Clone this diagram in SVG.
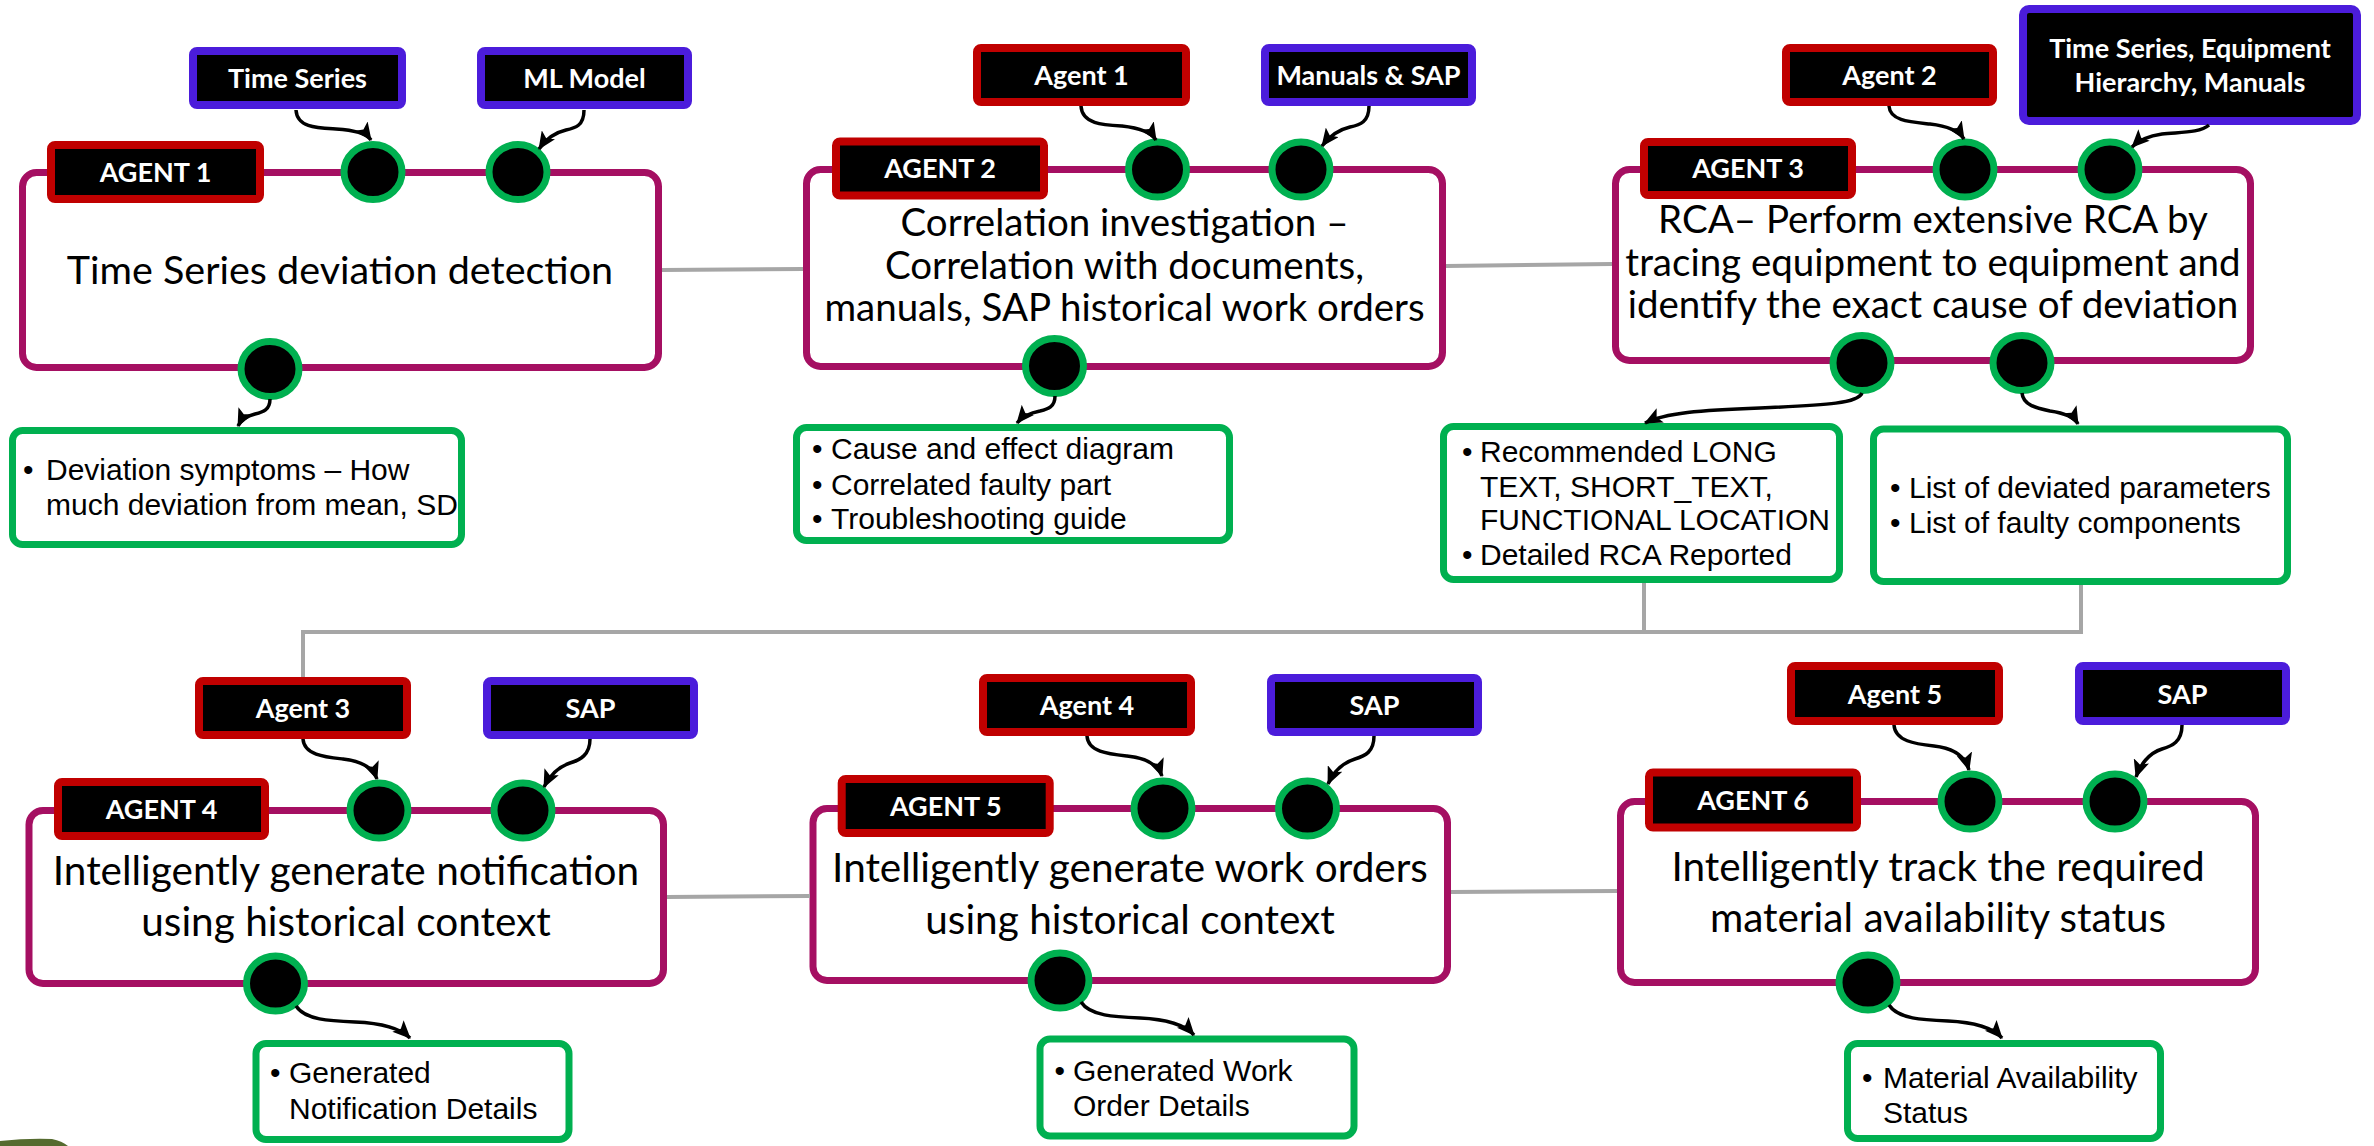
<svg xmlns="http://www.w3.org/2000/svg" width="2374" height="1146" viewBox="0 0 2374 1146">
<defs>
<style>
.main{fill:#fff;stroke:#A50F62;stroke-width:7}
.lr{fill:#000;stroke:#C00000;stroke-width:8}
.lb{fill:#000;stroke:#4B1CDB;stroke-width:8}
.port{fill:#000;stroke:#00B050;stroke-width:7}
.out{fill:#fff;stroke:#00B050;stroke-width:7}
.conn{fill:none;stroke:#A6A6A6;stroke-width:4}
.arr{fill:none;stroke:#000;stroke-width:3.5;marker-end:url(#ah)}
.title{font-family:Lato,"Open Sans",sans-serif;font-size:38.5px;fill:#000;text-anchor:middle}
.title1{font-family:Lato,"Open Sans",sans-serif;font-size:39.5px;fill:#000;text-anchor:middle}
.title2{font-family:Lato,"Open Sans",sans-serif;font-size:40.5px;fill:#000;text-anchor:middle}
.lt{font-family:Lato,"Open Sans",sans-serif;font-weight:bold;font-size:27px;fill:#fff;text-anchor:middle}
.bt{font-family:"Liberation Sans",Arial,sans-serif;font-size:30px;fill:#000}
</style>
<marker id="ah" markerUnits="userSpaceOnUse" markerWidth="18" markerHeight="16" refX="17" refY="8" orient="auto">
<path d="M0,0 L18,8 L0,16 L4,8 Z" fill="#000"/>
</marker>
</defs>
<rect width="2374" height="1146" fill="#fff"/>
<path d="M0,1146 L0,1141 Q28,1138 52,1139 Q62,1141 68,1146 Z" fill="#556B2F"/>

<!-- Row 1 -->
<g id="in-timeseries-1"><rect class="lb" x="193" y="51" width="209" height="54" rx="4"/><text class="lt" x="297.5" y="87.5">Time Series</text></g>
<g id="in-mlmodel"><rect class="lb" x="481" y="51" width="207" height="54" rx="4"/><text class="lt" x="584.5" y="87.5">ML Model</text></g>
<g id="agent1">
<rect class="main" x="22.5" y="172.5" width="636" height="195" rx="14"/>
<rect class="lr" x="51" y="145" width="209" height="54" rx="4"/><text class="lt" x="155.5" y="181.5">AGENT 1</text>
<ellipse class="port" cx="373" cy="172" rx="29" ry="27.5"/>
<ellipse class="port" cx="518" cy="172" rx="29" ry="27.5"/>
<ellipse class="port" cx="270" cy="369" rx="29" ry="27.5"/>
<text class="title1" x="340" y="284">Time Series deviation detection</text>
</g>
<g id="out1"><rect class="out" x="12.5" y="430.5" width="449" height="114" rx="10"/>
<text class="bt" x="23" y="480">•</text><text class="bt" x="46" y="480">Deviation symptoms – How</text><text class="bt" x="46" y="515">much deviation from mean, SD</text></g>

<g id="in-agent1"><rect class="lr" x="977" y="48" width="209" height="54" rx="4"/><text class="lt" x="1081.5" y="84.5">Agent 1</text></g>
<g id="in-manuals"><rect class="lb" x="1265" y="48" width="207" height="54" rx="4"/><text class="lt" x="1368.5" y="84.5">Manuals &amp; SAP</text></g>
<g id="agent2">
<rect class="main" x="806.5" y="169.5" width="636" height="197" rx="14"/>
<rect class="lr" x="836" y="141.5" width="208" height="54" rx="4"/><text class="lt" x="940" y="178">AGENT 2</text>
<ellipse class="port" cx="1157.5" cy="169.5" rx="29" ry="27.5"/>
<ellipse class="port" cx="1301" cy="169.5" rx="29" ry="27.5"/>
<ellipse class="port" cx="1054.5" cy="366" rx="29" ry="27.5"/>
<text class="title" x="1124.5" y="236">Correlation investigation –</text>
<text class="title" x="1124.5" y="279">Correlation with documents,</text>
<text class="title" x="1124.5" y="321">manuals, SAP historical work orders</text>
</g>
<g id="out2"><rect class="out" x="796.5" y="427.5" width="433" height="113" rx="10"/>
<text class="bt" x="812" y="459">•</text><text class="bt" x="831" y="459">Cause and effect diagram</text>
<text class="bt" x="812" y="495">•</text><text class="bt" x="831" y="495">Correlated faulty part</text>
<text class="bt" x="812" y="529">•</text><text class="bt" x="831" y="529">Troubleshooting guide</text></g>

<g id="in-agent2"><rect class="lr" x="1786" y="48" width="207" height="54" rx="4"/><text class="lt" x="1889.5" y="84.5">Agent 2</text></g>
<g id="in-tseqman"><rect class="lb" x="2023" y="9" width="334" height="112" rx="6"/><text class="lt" x="2190" y="57.5">Time Series, Equipment</text><text class="lt" x="2190" y="92">Hierarchy, Manuals</text></g>
<g id="agent3">
<rect class="main" x="1615.5" y="169.5" width="635" height="191" rx="14"/>
<rect class="lr" x="1644" y="142" width="208" height="53" rx="4"/><text class="lt" x="1748" y="178">AGENT 3</text>
<ellipse class="port" cx="1965" cy="169.5" rx="29" ry="27.5"/>
<ellipse class="port" cx="2110" cy="169.5" rx="29" ry="27.5"/>
<ellipse class="port" cx="1862" cy="363" rx="29" ry="27.5"/>
<ellipse class="port" cx="2022" cy="363" rx="29" ry="27.5"/>
<text class="title" x="1933" y="233">RCA– Perform extensive RCA by</text>
<text class="title" x="1933" y="275.5">tracing equipment to equipment and</text>
<text class="title" x="1933" y="318">identify the exact cause of deviation</text>
</g>
<g id="out3a"><rect class="out" x="1443.5" y="426.5" width="396" height="153" rx="10"/>
<text class="bt" x="1462" y="462">•</text><text class="bt" x="1480" y="462">Recommended LONG</text>
<text class="bt" x="1480" y="497">TEXT, SHORT_TEXT,</text>
<text class="bt" x="1480" y="530">FUNCTIONAL LOCATION</text>
<text class="bt" x="1462" y="565">•</text><text class="bt" x="1480" y="565">Detailed RCA Reported</text></g>
<g id="out3b"><rect class="out" x="1873.5" y="429" width="414" height="152.5" rx="10"/>
<text class="bt" x="1890" y="497.5">•</text><text class="bt" x="1909" y="497.5">List of deviated parameters</text>
<text class="bt" x="1890" y="533">•</text><text class="bt" x="1909" y="533">List of faulty components</text></g>

<!-- Row 2 -->
<g id="in-agent3"><rect class="lr" x="199" y="681" width="208" height="54" rx="4"/><text class="lt" x="303" y="717.5">Agent 3</text></g>
<g id="in-sap1"><rect class="lb" x="487" y="681" width="207" height="54" rx="4"/><text class="lt" x="590.5" y="717.5">SAP</text></g>
<g id="agent4">
<rect class="main" x="29" y="810.5" width="634.5" height="173" rx="14"/>
<rect class="lr" x="58" y="782" width="207" height="54" rx="4"/><text class="lt" x="161.5" y="818.5">AGENT 4</text>
<ellipse class="port" cx="379" cy="810.5" rx="29" ry="27.5"/>
<ellipse class="port" cx="523" cy="810.5" rx="29" ry="27.5"/>
<ellipse class="port" cx="275.5" cy="983.5" rx="29" ry="27.5"/>
<text class="title2" x="346" y="885">Intelligently generate notification</text>
<text class="title2" x="346" y="935.5">using historical context</text>
</g>
<g id="out4"><rect class="out" x="256" y="1043.5" width="313" height="96" rx="10"/>
<text class="bt" x="270" y="1083">•</text><text class="bt" x="289" y="1083">Generated</text><text class="bt" x="289" y="1118.5">Notification Details</text></g>

<g id="in-agent4"><rect class="lr" x="983" y="678" width="208" height="54" rx="4"/><text class="lt" x="1087" y="714.5">Agent 4</text></g>
<g id="in-sap2"><rect class="lb" x="1271" y="678" width="207" height="54" rx="4"/><text class="lt" x="1374.5" y="714.5">SAP</text></g>
<g id="agent5">
<rect class="main" x="813" y="808.5" width="634.5" height="172" rx="14"/>
<rect class="lr" x="841.7" y="779" width="208" height="54" rx="4"/><text class="lt" x="945.8" y="815.5">AGENT 5</text>
<ellipse class="port" cx="1163" cy="808.5" rx="29" ry="27.5"/>
<ellipse class="port" cx="1307.5" cy="808.5" rx="29" ry="27.5"/>
<ellipse class="port" cx="1060" cy="980.5" rx="29" ry="27.5"/>
<text class="title2" x="1130" y="882">Intelligently generate work orders</text>
<text class="title2" x="1130" y="933.5">using historical context</text>
</g>
<g id="out5"><rect class="out" x="1040" y="1039" width="314" height="97" rx="10"/>
<text class="bt" x="1054.5" y="1081">•</text><text class="bt" x="1073" y="1081">Generated Work</text><text class="bt" x="1073" y="1116">Order Details</text></g>

<g id="in-agent5"><rect class="lr" x="1791" y="666" width="208" height="55" rx="4"/><text class="lt" x="1895" y="703.5">Agent 5</text></g>
<g id="in-sap3"><rect class="lb" x="2079" y="666" width="207" height="55" rx="4"/><text class="lt" x="2182.5" y="703.5">SAP</text></g>
<g id="agent6">
<rect class="main" x="1620.5" y="801.5" width="635" height="181" rx="14"/>
<rect class="lr" x="1649" y="772.5" width="208" height="55" rx="4"/><text class="lt" x="1753" y="809.5">AGENT 6</text>
<ellipse class="port" cx="1970" cy="801.5" rx="29" ry="27.5"/>
<ellipse class="port" cx="2115" cy="801.5" rx="29" ry="27.5"/>
<ellipse class="port" cx="1868" cy="982.5" rx="29" ry="27.5"/>
<text class="title2" x="1938" y="880.5">Intelligently track the required</text>
<text class="title2" x="1938" y="932">material availability status</text>
</g>
<g id="out6"><rect class="out" x="1847.5" y="1043.5" width="313" height="95" rx="10"/>
<text class="bt" x="1862" y="1087.5">•</text><text class="bt" x="1883" y="1087.5">Material Availability</text><text class="bt" x="1883" y="1122.5">Status</text></g>

<g id="connectors">
<path class="conn" d="M662,270 L803,269"/>
<path class="conn" d="M1446,266 L1612,264"/>
<path class="conn" d="M1644,583 V632"/>
<path class="conn" d="M2081,585 V632 H303 V677"/>
<path class="conn" d="M667,897 L810,896"/>
<path class="conn" d="M1451,892 L1617,891"/>

<path class="arr" d="M296,110 C297,128 318,128 336,129 C354,130 366,133 371,140"/>
<path class="arr" d="M584,110 C584,126 575,128 566,130 C553,133 545,140 539,149"/>
<path class="arr" d="M270,399 C270,410 263,412 255,414 C247,416 241,420 238,426"/>

<path class="arr" d="M1081,106 C1082,124 1103,125 1122,126 C1140,128 1151,132 1156,140"/>
<path class="arr" d="M1369,106 C1369,122 1360,125 1350,127 C1337,130 1328,138 1322,146"/>
<path class="arr" d="M1055,396 C1055,407 1048,409 1040,411 C1030,413 1022,417 1017,423"/>

<path class="arr" d="M1889,106 C1890,121 1910,122 1930,124 C1948,126 1959,131 1964,139"/>
<path class="arr" d="M2209,125 C2200,133 2180,132 2162,134 C2148,136 2138,141 2132,147"/>
<path class="arr" d="M1862,393 C1858,403 1830,405 1760,408 C1700,410 1665,413 1645,423"/>
<path class="arr" d="M2022,393 C2023,405 2036,408 2050,411 C2064,413 2074,417 2078,424"/>

<path class="arr" d="M303,739 C304,755 325,757 343,759 C361,761 373,768 377,779"/>
<path class="arr" d="M590,739 C590,755 580,760 570,763 C558,767 549,777 544,787"/>
<path class="arr" d="M296,1006 C305,1020 330,1021 355,1022 C380,1023 400,1028 410,1038"/>

<path class="arr" d="M1087,736 C1088,752 1108,754 1127,756 C1146,758 1158,765 1162,776"/>
<path class="arr" d="M1374,736 C1374,752 1365,756 1355,759 C1342,763 1333,773 1328,784"/>
<path class="arr" d="M1081,1002 C1090,1016 1115,1017 1140,1018 C1165,1019 1185,1025 1194,1035"/>

<path class="arr" d="M1894,725 C1895,741 1915,744 1934,746 C1953,748 1965,756 1969,770"/>
<path class="arr" d="M2182,725 C2182,742 2172,746 2162,749 C2149,753 2140,765 2136,777"/>
<path class="arr" d="M1889,1005 C1898,1019 1923,1020 1948,1021 C1973,1022 1993,1028 2002,1038"/>
</g>
</svg>
